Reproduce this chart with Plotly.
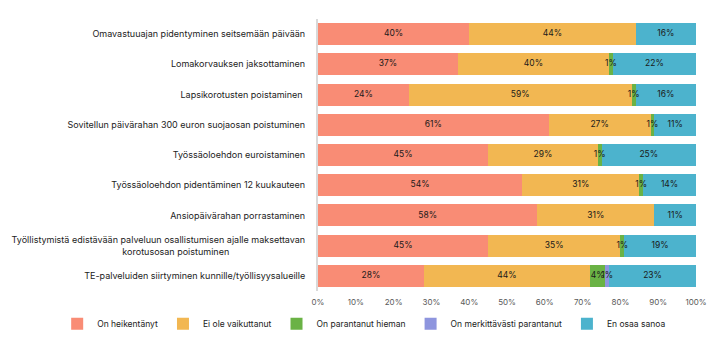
import plotly.graph_objects as go

categories = [
    "Omavastuuajan pidentyminen seitsemään päivään",
    "Lomakorvauksen jaksottaminen",
    "Lapsikorotusten poistaminen ",
    "Sovitellun päivärahan 300 euron suojaosan poistuminen",
    "Työssäoloehdon euroistaminen",
    "Työssäoloehdon pidentäminen 12 kuukauteen",
    "Ansiopäivärahan porrastaminen",
    "Työllistymistä edistävään palveluun osallistumisen ajalle maksettavan<br>korotusosan poistuminen" + "\u00a0" * 30,
    "TE-palveluiden siirtyminen kunnille/työllisyysalueille",
]

series_names = ["On heikentänyt", "Ei ole vaikuttanut", "On parantanut hieman",
                "On merkittävästi parantanut", "En osaa sanoa"]
heikentanyt = [40, 37, 24, 61, 45, 54, 58, 45, 28]
ei_vaikuttanut = [44, 40, 59, 27, 29, 31, 31, 35, 44]
parantanut_hieman = [0, 1, 1, 1, 1, 1, 0, 1, 4]
merkittavasti = [0, 0, 0, 0, 0, 0, 0, 0, 1]
en_osaa = [16, 22, 16, 11, 25, 14, 11, 19, 23]

colors = ["#F98C75", "#F2B752", "#6AB245", "#8E95DE", "#4CB3CD"]
values = [heikentanyt, ei_vaikuttanut, parantanut_hieman, merkittavasti, en_osaa]

FONT = "Inter"

fig = go.Figure()
for name, vals, col in zip(series_names, values, colors):
    fig.add_trace(go.Bar(
        y=categories, x=vals, name=name, orientation="h",
        marker=dict(color=col, line=dict(width=0)),
        hoverinfo="skip",
    ))

# value labels centred on each segment
lab_x, lab_y, lab_t = [], [], []
for i, cat in enumerate(categories):
    left = 0
    for vals in values:
        v = vals[i]
        if v > 0:
            lab_x.append(left + v / 2)
            lab_y.append(cat)
            lab_t.append(f"{v}%")
        left += v
fig.add_trace(go.Scatter(
    x=lab_x, y=lab_y, text=lab_t, mode="text", showlegend=False,
    textfont=dict(color="#1a1a1a", size=8.5, family=FONT),
    textposition="middle center", hoverinfo="skip",
))

fig.update_layout(
    barmode="stack",
    width=720, height=349,
    margin=dict(l=318, r=24, t=19, b=58, autoexpand=False),
    paper_bgcolor="white", plot_bgcolor="white",
    bargap=0.27,
    font=dict(family=FONT, size=9, color="#222222"),
    xaxis=dict(range=[0, 100], dtick=10, ticksuffix="%", showgrid=False,
               zeroline=False, tickfont=dict(size=8, color="#595959"),
               showline=False, automargin=False, ticklen=0, ticks="",
               ticklabelstandoff=5),
    yaxis=dict(autorange="reversed", showline=True, linecolor="#D9D9D9",
               linewidth=2, ticks="", ticklabelstandoff=9, automargin=False,
               tickfont=dict(size=9, color="#222222")),
    legend=dict(orientation="h", x=-0.69, xanchor="left",
                y=-0.12, yanchor="middle",
                font=dict(size=8.5, color="#222222"),
                traceorder="normal", itemwidth=30),
)

fig.write_html("out.html")
